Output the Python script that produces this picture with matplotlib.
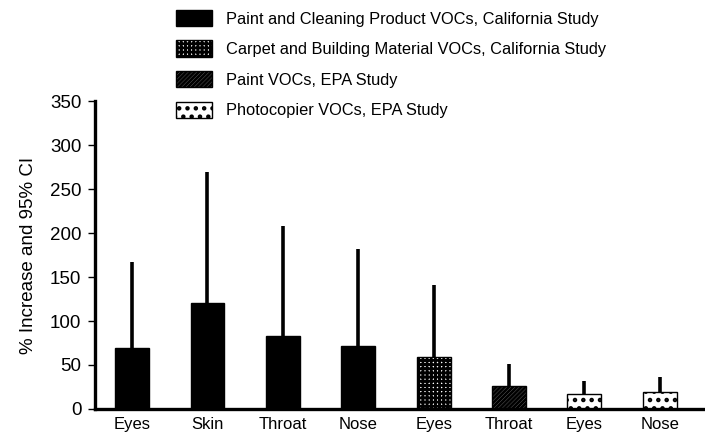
from matplotlib import pyplot as plt
from matplotlib.patches import Patch
import numpy as np

plt.rcParams['font.family'] = ['Liberation Sans', 'DejaVu Sans']
plt.rcParams['hatch.linewidth'] = 2.0

# data
labels = ["Eyes", "Skin", "Throat", "Nose", "Eyes", "Throat", "Eyes", "Nose"]
increase = [69, 120, 83, 72, 59, 26, 17, 19]
ci_upper = [167, 269, 208, 182, 141, 51, 32, 36]
group = [0, 0, 0, 0, 1, 2, 3, 3]

series_names = [
    "Paint and Cleaning Product VOCs, California Study",
    "Carpet and Building Material VOCs, California Study",
    "Paint VOCs, EPA Study",
    "Photocopier VOCs, EPA Study",
]

# fill style per series: (facecolor, hatch)
styles = [("black", None), ("white", "++++"), ("white", "////////"), ("white", "..")]

figure = plt.figure(figsize=(7.05, 4.36), dpi=100)
axes = figure.add_axes([0.135, 0.062, 0.865, 0.706])

x = np.arange(len(labels))
err_low = np.zeros(len(labels))
err_high = np.array(ci_upper) - np.array(increase)
axes.errorbar(x, increase, yerr=[err_low, err_high], fmt="none",
              ecolor="black", elinewidth=2.6, capsize=0, zorder=1)

for i in range(len(labels)):
    fc, hatch = styles[group[i]]
    axes.bar(x[i], increase[i], width=0.45, color=fc, hatch=hatch,
             edgecolor="black", linewidth=1, zorder=2)

axes.set_xlim(-0.49, 7.6)
axes.set_ylim(0, 350)
axes.set_yticks(range(0, 351, 50))
axes.set_xticks(x)
axes.set_xticklabels(labels, fontsize=12)
axes.tick_params(axis="x", length=0, pad=6)
axes.tick_params(axis="y", labelsize=13.5, length=5, width=1, pad=5)
axes.set_ylabel("% Increase and 95% CI", fontsize=13.5, labelpad=9)

for side in ["top", "right"]:
    axes.spines[side].set_visible(False)
for side in ["left", "bottom"]:
    axes.spines[side].set_linewidth(2.4)

handles = [Patch(facecolor=fc, hatch=h, edgecolor="black", linewidth=1)
           for fc, h in styles]
figure.legend(handles, series_names, loc="upper left",
              bbox_to_anchor=(0.236, 1.0), frameon=False, fontsize=11.8,
              handlelength=2.2, handleheight=1.15, handletextpad=0.85,
              labelspacing=0.85, borderaxespad=0.2)

figure.savefig("out.png", dpi=100)
